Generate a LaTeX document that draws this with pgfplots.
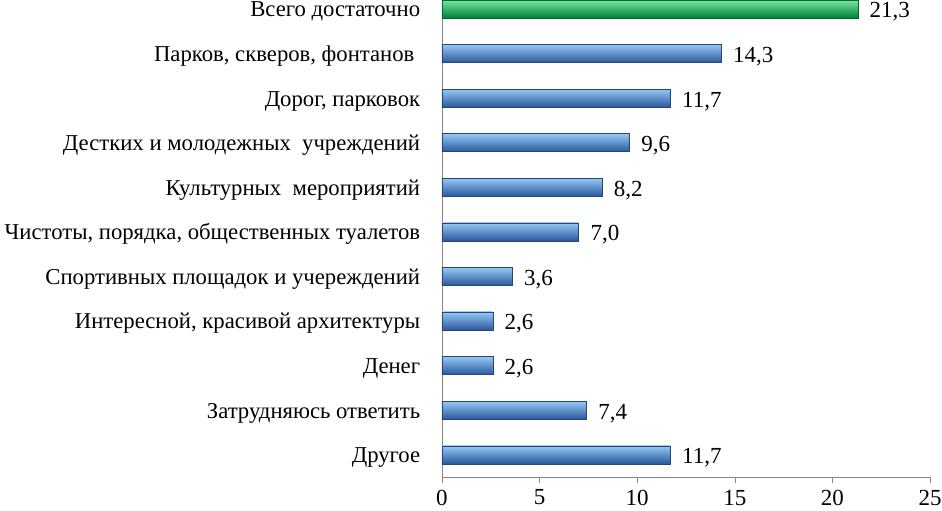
\documentclass[border=0pt]{standalone}
\usepackage{fontspec}
\setmainfont{Liberation Serif}
\usepackage{pgfplots}
\pgfplotsset{compat=1.18}
\definecolor{axisgray}{RGB}{134,134,134}
\definecolor{bluetop}{RGB}{150,200,245}
\definecolor{bluemid}{RGB}{79,138,208}
\definecolor{bluebot}{RGB}{42,88,156}
\definecolor{blueline}{RGB}{38,70,120}
\definecolor{greentop}{RGB}{120,230,160}
\definecolor{greenmid}{RGB}{0,176,80}
\definecolor{greenbot}{RGB}{0,128,58}
\definecolor{greenline}{RGB}{0,105,48}
\newcommand\chartfont{\fontsize{23}{27}\selectfont}
\newcommand\labelfont{\fontsize{22.7}{27}\selectfont}
\pgfplotsset{
  bluebar/.style={draw=blueline, top color=bluetop, middle color=bluemid, bottom color=bluebot},
  greenbar/.style={draw=greenline, top color=greentop, middle color=greenmid, bottom color=greenbot},
}

\begin{document}
\chartfont
\begin{tikzpicture}
\useasboundingbox (-442pt,-34pt) rectangle (500pt,477pt);
\begin{axis}[
  scale only axis, width=488pt, height=477pt,
  xbar, bar width=18pt, bar shift=0pt,
  xmin=0, xmax=25, xtick={0,5,...,25},
  ymin=-0.5, ymax=10.2,
  ytick={0,...,10},
  yticklabels={Другое, Затрудняюсь ответить, Денег\ , {Интересной, красивой архитектуры}, Спортивных площадок и учереждений, {Чистоты, порядка, общественных туалетов}, Культурных\ \ мероприятий, Дестких и молодежных\ \ учреждений, {Дорог, парковок}, {Парков, скверов, фонтанов\ \ }, Всего достаточно},
  minor ytick={-0.5,0.5,...,9.5},
  axis x line*=bottom, axis y line*=left,
  axis line style={axisgray},
  tick align=outside, major tick length=6pt, minor tick length=6pt,
  ytick style={draw=none}, minor tick style={axisgray},
  xtick style={axisgray},
  /pgf/number format/assume math mode=true,
  xticklabel style={font=\chartfont, yshift=1pt},
  yticklabel style={font=\labelfont, anchor=base east, xshift=-8pt, yshift=-8pt},
  nodes near coords,
  nodes near coords style={font=\chartfont, anchor=base west, xshift=4pt, yshift=-9pt, black,
    /pgf/number format/.cd, use comma, fixed, fixed zerofill, precision=1},
  clip=false,
]
\addplot[bluebar] coordinates {(11.7,0)};
\addplot[bluebar] coordinates {(7.4,1)};
\addplot[bluebar] coordinates {(2.6,2)};
\addplot[bluebar] coordinates {(2.6,3)};
\addplot[bluebar] coordinates {(3.6,4)};
\addplot[bluebar] coordinates {(7.0,5)};
\addplot[bluebar] coordinates {(8.2,6)};
\addplot[bluebar] coordinates {(9.6,7)};
\addplot[bluebar] coordinates {(11.7,8)};
\addplot[bluebar] coordinates {(14.3,9)};
\addplot[greenbar] coordinates {(21.3,10)};
\end{axis}
\end{tikzpicture}
\end{document}
